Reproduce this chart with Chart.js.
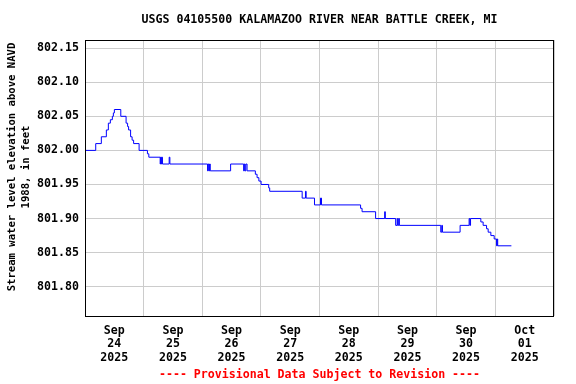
<!DOCTYPE html>
<html>
<head>
<meta charset="utf-8">
<script src="https://cdn.jsdelivr.net/npm/chart.js@4"></script>
<style>
  html, body { margin: 0; padding: 0; background: #fff; }
  #wrap { width: 576px; height: 384px; }
</style>
</head>
<body>
<div id="wrap"><canvas id="myChart" width="576" height="384"></canvas></div>
<script>
// hours since Sep 24 2025 00:00 and water-surface elevation (ft, NAVD 1988)
let hours = [
  0, 4.39, 6.69, 8.74, 9.56, 10.38, 11.2, 11.61, 12.02, 14.65,
  16.82, 17.44, 17.85, 18.67, 19.28, 19.9, 22.15, 25.56, 26.13, 30.77,
  30.97, 31.18, 31.38, 31.71, 34.46, 34.75, 50.17, 50.46, 50.75, 51.0,
  51.28, 59.61, 64.94, 65.23, 65.52, 65.85, 66.34, 69.74, 70.44, 71.18,
  72.08, 75.2, 75.61, 88.9, 90.26, 90.54, 93.95, 96.41, 96.82, 112.82,
  113.43, 118.97, 122.67, 122.95, 127.18, 127.79, 128.0, 128.41, 128.7, 145.64,
  146.05, 146.34, 153.56, 157.25, 157.54, 157.83, 162.05, 162.99, 164.39, 165.05,
  166.15, 167.51, 168.49, 168.74, 168.95, 174.56
];
let elevation = [
  802.00, 802.01, 802.02, 802.03, 802.04, 802.045, 802.05, 802.055, 802.06, 802.05,
  802.04, 802.035, 802.03, 802.02, 802.015, 802.01, 802.00, 801.995, 801.99, 801.98,
  801.99, 801.98, 801.99, 801.98, 801.99, 801.98, 801.97, 801.98, 801.97, 801.98,
  801.97, 801.98, 801.97, 801.98, 801.97, 801.98, 801.97, 801.965, 801.96, 801.955,
  801.95, 801.945, 801.94, 801.93, 801.94, 801.93, 801.92, 801.93, 801.92, 801.915,
  801.91, 801.90, 801.91, 801.90, 801.89, 801.90, 801.89, 801.90, 801.89, 801.88,
  801.89, 801.88, 801.89, 801.90, 801.89, 801.90, 801.895, 801.89, 801.885, 801.88,
  801.875, 801.87, 801.86, 801.87, 801.86, 801.86
];

let dayMonths = ['Sep', 'Sep', 'Sep', 'Sep', 'Sep', 'Sep', 'Sep', 'Oct'];
let dayNumbers = ['24', '25', '26', '27', '28', '29', '30', '01'];
let dayYears = ['2025', '2025', '2025', '2025', '2025', '2025', '2025', '2025'];
let yTicks = [801.80, 801.85, 801.90, 801.95, 802.00, 802.05, 802.10, 802.15];

let chartTitle = 'USGS 04105500 KALAMAZOO RIVER NEAR BATTLE CREEK, MI';
let yTitle = ['Stream water level elevation above NAVD', '1988, in feet'];
let footer = '---- Provisional Data Subject to Revision ----';

const mono = "'DejaVu Sans Mono', monospace";

let points = [];
for (let i = 0; i < hours.length; i++) {
  points.push({ x: hours[i], y: elevation[i] });
}

const frameAndText = {
  id: 'frameAndText',
  afterDraw(chart) {
    const c = chart.ctx;
    const a = chart.chartArea;
    c.save();
    c.strokeStyle = '#000';
    c.lineWidth = 1;
    c.strokeRect(Math.round(a.left) + 0.5, Math.round(a.top) + 0.5,
      Math.round(a.right - a.left) - 1, Math.round(a.bottom - a.top));
    c.textAlign = 'center';
    c.textBaseline = 'middle';
    c.font = `bold 11.6px ${mono}`;
    c.fillStyle = '#000';
    c.fillText(chartTitle, (a.left + a.right) / 2, 20);
    c.fillStyle = '#ff0000';
    c.fillText(footer, (a.left + a.right) / 2, 375);
    // rotated y axis title
    c.fillStyle = '#000';
    c.font = `bold 10.6px ${mono}`;
    c.translate(0, 167);
    c.rotate(-Math.PI / 2);
    c.fillText(yTitle[0], 0, 12);
    c.fillText(yTitle[1], 0, 26);
    c.restore();
  }
};

new Chart(document.getElementById('myChart'), {
  type: 'line',
  data: {
    datasets: [
      {
        data: points,
        borderColor: '#0000ff',
        borderWidth: 1,
        pointRadius: 0,
        stepped: true,
        fill: false,
      },
    ],
  },
  options: {
    responsive: false,
    animation: false,
    layout: { padding: { top: 40, right: 22, left: 0, bottom: 0 } },
    plugins: {
      legend: { display: false },
      tooltip: { enabled: false },
    },
    scales: {
      x: {
        type: 'linear',
        min: 0,
        max: 192,
        afterBuildTicks(scale) {
          let t = [];
          for (let v = 0; v <= 192; v += 12) t.push({ value: v });
          scale.ticks = t;
        },
        afterFit(scale) { scale.height = 68; },
        grid: {
          color: (ctx) => (ctx.tick && ctx.tick.value % 24 === 0 ? '#cccccc' : 'rgba(0,0,0,0)'),
          drawTicks: false,
        },
        border: { display: false },
        ticks: {
          autoSkip: false,
          maxRotation: 0,
          padding: 8,
          color: '#000',
          font: { family: mono, size: 11.6, weight: 'bold', lineHeight: 1.17 },
          callback(value) {
            if (value % 24 !== 12) return '';
            let i = (value - 12) / 24;
            return [dayMonths[i], dayNumbers[i], dayYears[i]];
          },
        },
      },
      y: {
        min: 801.757,
        max: 802.162,
        afterBuildTicks(scale) {
          scale.ticks = yTicks.map((v) => ({ value: v }));
        },
        afterFit(scale) { scale.width = 85; },
        grid: { color: '#cccccc', drawTicks: false },
        border: { display: false },
        ticks: {
          padding: 6,
          color: '#000',
          font: { family: mono, size: 11.6, weight: 'bold' },
          callback: (v) => Number(v).toFixed(2),
        },
      },
    },
  },
  plugins: [frameAndText],
});
</script>
</body>
</html>
